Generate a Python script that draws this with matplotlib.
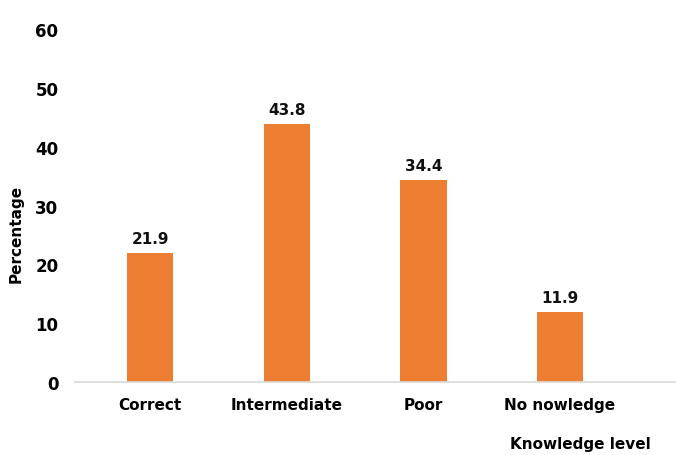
import matplotlib.pyplot as plt
import numpy as np

categories = ["Correct", "Intermediate", "Poor", "No nowledge"]
values = [21.9, 43.8, 34.4, 11.9]
yticks = [0, 10, 20, 30, 40, 50, 60]

fig = plt.figure(figsize=(6.76, 4.56), dpi=100)
ax = fig.add_axes([0.111, 0.160, 0.889, 0.774])

x = np.arange(len(categories))
bars = ax.bar(x, values, width=0.34, color="#ED7D31")
for xi, v in zip(x, values):
    ax.text(xi, v + 1.2, f"{v:.1f}", ha="center", va="bottom",
            fontsize=11, fontweight="bold", color="#111111")

ax.set_xlim(-0.55, 3.85)
ax.set_ylim(0, 60)
ax.set_yticks(yticks)
ax.set_yticklabels([str(t) for t in yticks], fontsize=12, fontweight="bold")
ax.set_xticks(x)
ax.set_xticklabels(categories, fontsize=11, fontweight="bold")
ax.tick_params(axis="y", length=0, pad=12)
ax.tick_params(axis="x", length=0, pad=11)

for s in ["top", "right", "left"]:
    ax.spines[s].set_visible(False)
ax.spines["bottom"].set_color("#D9D9D9")
ax.spines["bottom"].set_linewidth(1.2)

fig.text(0.024, 0.487, "Percentage", rotation=90, ha="center", va="center",
         fontsize=11, fontweight="bold")
fig.text(0.858, 0.025, "Knowledge level", ha="center", va="center",
         fontsize=11, fontweight="bold")

fig.savefig("out.png", dpi=100)
